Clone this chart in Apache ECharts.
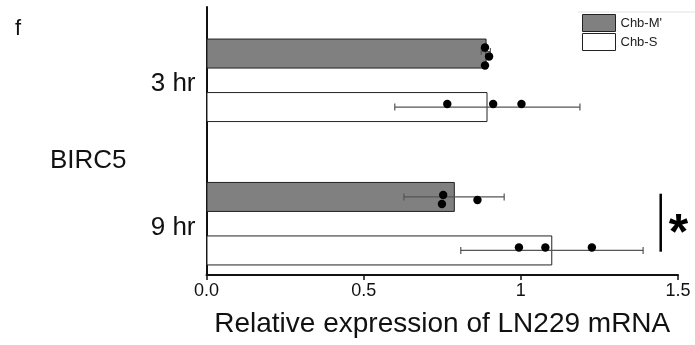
<!DOCTYPE html>
<html>
<head>
<meta charset="utf-8">
<script src="https://cdn.jsdelivr.net/npm/echarts@6/dist/echarts.min.js"></script>
<style>html,body{margin:0;padding:0;background:#fff;}#c{width:695px;height:345px;}</style>
</head>
<body>
<div id="c"></div>
<script>
// ---- data ----
const categories = ['3 hr', '9 hr'];
const seriesNames = ["Chb-M'", 'Chb-S'];
const meanM = [0.891, 0.790];
const meanS = [0.894, 1.100];
const errLowM = [0.874, 0.628];
const errHighM = [0.903, 0.947];
const errLowS = [0.599, 0.809];
const errHighS = [1.188, 1.389];
const pointsM = [[0.886, 0.899, 0.886], [0.753, 0.749, 0.862]];
const pointsS = [[0.766, 0.912, 1.002], [0.994, 1.078, 1.226]];
const xTickValues = [0, 0.5, 1, 1.5];
const xTickLabels = ['0.0', '0.5', '1', '1.5'];
const geneLabel = 'BIRC5';
const panelLabel = 'f';
const xAxisTitle = 'Relative expression of LN229 mRNA';
const sigCategory = 1;   // significance marked for '9 hr'
const sigX = 1.445;
const sigText = '*';

// ---- layout / style constants ----
const FONT = 'Arial, "Liberation Sans", Helvetica, sans-serif';
const BAR_W = 30;
const BAR_GAP_PX = 23.5;
const SIDE = (BAR_W + BAR_GAP_PX) / 2;   // bar centre offset from category centre
// dot jitter (px, vertical) per category per point
const jitterM = [[-6, 3, 12], [-2, 7, 3]];
const jitterS = [[-3, -3, -3], [-3, -3, -3]];
const errOffM = [-2, 0];
const errOffS = [0, 0];

const chart = echarts.init(document.getElementById('c'), null, {renderer: 'canvas'});

function errSeries(name, lows, highs, side, offs) {
  return {
    type: 'custom', name: name + '_err', xAxisIndex: 0, yAxisIndex: 0, z: 5,
    silent: true,
    data: lows.map((l, i) => [l, highs[i], i]),
    renderItem: function (params, api) {
      const c = api.value(2);
      const p1 = api.coord([api.value(0), c]);
      const p2 = api.coord([api.value(1), c]);
      const y = p1[1] + side * SIDE + offs[c];
      const st = {stroke: '#555', lineWidth: 1.2};
      return {type: 'group', children: [
        {type: 'line', shape: {x1: p1[0], y1: y, x2: p2[0], y2: y}, style: st},
        {type: 'line', shape: {x1: p1[0], y1: y - 3.5, x2: p1[0], y2: y + 3.5}, style: st},
        {type: 'line', shape: {x1: p2[0], y1: y - 3.5, x2: p2[0], y2: y + 3.5}, style: st}
      ]};
    }
  };
}

function dotSeries(name, pts, side, jit) {
  const data = [];
  pts.forEach((arr, c) => arr.forEach((v, k) => data.push([v, c, k])));
  return {
    type: 'custom', name: name + '_pts', xAxisIndex: 0, yAxisIndex: 0, z: 6,
    silent: true,
    data: data,
    renderItem: function (params, api) {
      const c = api.value(1), k = api.value(2);
      const p = api.coord([api.value(0), c]);
      return {type: 'circle', shape: {cx: p[0], cy: p[1] + side * SIDE + jit[c][k], r: 4.2},
              style: {fill: '#000'}};
    }
  };
}

const option = {
  backgroundColor: '#fff',
  animation: false,
  textStyle: {fontFamily: FONT},
  legend: {
    data: seriesNames,
    orient: 'vertical',
    left: 582, top: 14,
    itemWidth: 33, itemHeight: 17, itemGap: 1,
    icon: 'rect',
    padding: 0,
    textStyle: {fontSize: 13, color: '#222', fontFamily: FONT},
    itemStyle: {borderColor: '#222', borderWidth: 1}
  },
  grid: [
    {left: 206.5, right: 17, top: 8.6, bottom: 49.6},
    {left: 206.5, right: 17, top: 7, bottom: 70}
  ],
  xAxis: [
    {gridIndex: 0, type: 'value', min: 0, max: 1.5, show: false},
    {gridIndex: 1, type: 'value', min: 0, max: 1.5, interval: 0.5,
     axisLine: {show: true, lineStyle: {color: '#111', width: 2}},
     axisTick: {show: true, length: 5, lineStyle: {color: '#111', width: 1.5}},
     splitLine: {show: false},
     axisLabel: {fontSize: 18, color: '#111', margin: 7, fontFamily: FONT,
       formatter: function (v) { const i = xTickValues.findIndex(t => Math.abs(t - v) < 1e-9); return i >= 0 ? xTickLabels[i] : ''; }},
     name: xAxisTitle, nameLocation: 'middle', nameGap: 35,
     nameTextStyle: {fontSize: 28, color: '#111', fontFamily: FONT}}
  ],
  yAxis: [
    {gridIndex: 0, type: 'category', data: categories, inverse: true,
     axisLine: {show: false}, axisTick: {show: false}, splitLine: {show: false},
     axisLabel: {margin: 11, formatter: '{c|{value}}',
       rich: {c: {fontSize: 26, color: '#111', fontFamily: FONT, padding: [8, 0, 0, 0]}}}},
    {gridIndex: 1, type: 'value', min: 0, max: 1,
     axisLine: {show: true, lineStyle: {color: '#111', width: 2}},
     axisTick: {show: false}, axisLabel: {show: false}, splitLine: {show: false}}
  ],
  graphic: [
    {type: 'text', left: 15, top: 18, style: {text: panelLabel, font: '22px ' + FONT, fill: '#111'}},
    {type: 'text', left: 50, top: 148, style: {text: geneLabel, font: '26px ' + FONT, fill: '#111'}},
    {type: 'line', shape: {x1: 578, y1: 12, x2: 695, y2: 12}, style: {stroke: '#e2e2e2', lineWidth: 1}}
  ],
  series: [
    {type: 'bar', name: seriesNames[0], data: meanM, xAxisIndex: 0, yAxisIndex: 0,
     barWidth: BAR_W, barGap: (BAR_GAP_PX / BAR_W * 100) + '%',
     itemStyle: {color: '#808080', borderColor: '#222', borderWidth: 1}},
    {type: 'bar', name: seriesNames[1], data: meanS, xAxisIndex: 0, yAxisIndex: 0,
     barWidth: BAR_W, barGap: (BAR_GAP_PX / BAR_W * 100) + '%',
     itemStyle: {color: '#ffffff', borderColor: '#222', borderWidth: 1}},
    errSeries('m', errLowM, errHighM, -1, errOffM),
    errSeries('s', errLowS, errHighS, 1, errOffS),
    dotSeries('m', pointsM, -1, jitterM),
    dotSeries('s', pointsS, 1, jitterS),
    {
      type: 'custom', name: 'sig', xAxisIndex: 0, yAxisIndex: 0, z: 7, silent: true,
      data: [[sigX, sigCategory]],
      renderItem: function (params, api) {
        const p = api.coord([api.value(0), api.value(1)]);
        return {type: 'group', children: [
          {type: 'line', shape: {x1: p[0], y1: p[1] - 30, x2: p[0], y2: p[1] + 28},
           style: {stroke: '#000', lineWidth: 2.5}},
          {type: 'text', x: p[0] + 8, y: p[1] - 13,
           style: {text: sigText, font: 'bold 50px ' + FONT, fill: '#000'}}
        ]};
      }
    }
  ]
};
chart.setOption(option);
</script>
</body>
</html>
